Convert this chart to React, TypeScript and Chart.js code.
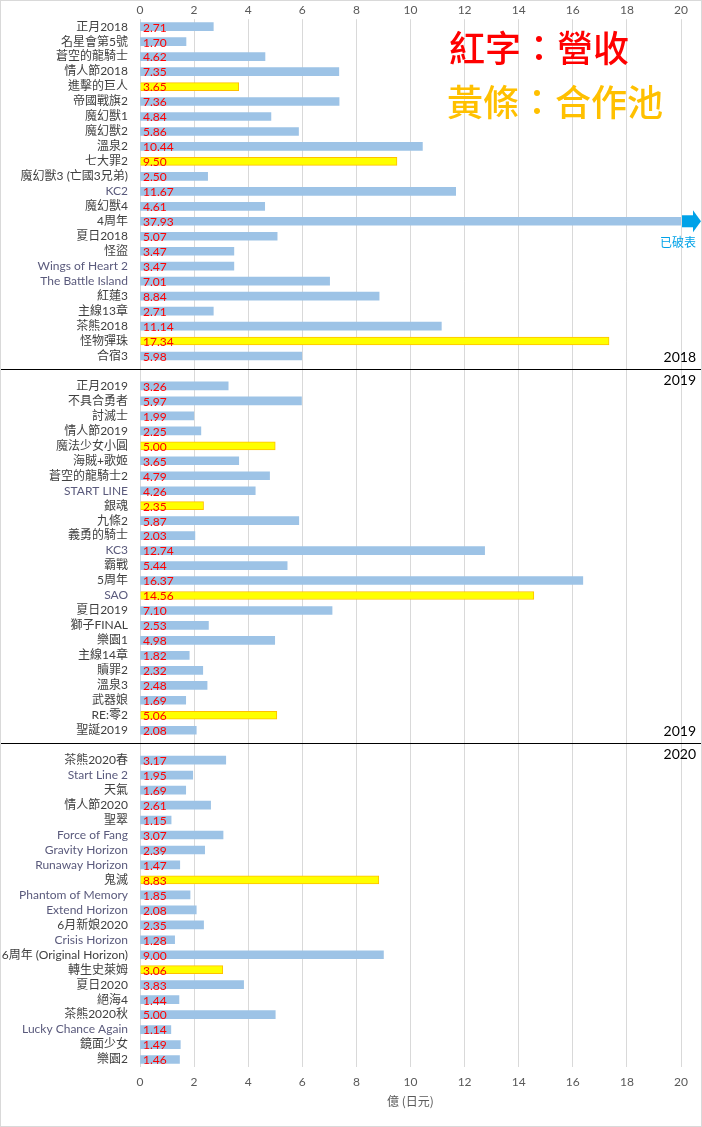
import React, { useEffect, useRef } from 'react';
import { Chart, registerables } from 'chart.js';

Chart.register(...registerables);

// ---------- data ----------
const years = ['2018', '2019', '2020'];

const cats2018 = [
  '正月2018', '名星會第5號', '蒼空的龍騎士', '情人節2018', '進擊的巨人', '帝國戰旗2', '魔幻獸1', '魔幻獸2',
  '溫泉2', '七大罪2', '魔幻獸3 (亡國3兄弟)', 'KC2', '魔幻獸4', '4周年', '夏日2018', '怪盜',
  'Wings of Heart 2', 'The Battle Island', '紅蓮3', '主線13章', '茶熊2018', '怪物彈珠', '合宿3',
];
const vals2018 = [
  2.71, 1.7, 4.62, 7.35, 3.65, 7.36, 4.84, 5.86, 10.44, 9.5, 2.5, 11.67, 4.61, 37.93, 5.07, 3.47,
  3.47, 7.01, 8.84, 2.71, 11.14, 17.34, 5.98,
];
const collab2018 = ['進擊的巨人', '七大罪2', '怪物彈珠'];

const cats2019 = [
  '正月2019', '不具合勇者', '討滅士', '情人節2019', '魔法少女小圓', '海賊+歌姬', '蒼空的龍騎士2', 'START LINE',
  '銀魂', '九條2', '義勇的騎士', 'KC3', '霸戰', '5周年', 'SAO', '夏日2019', '獅子FINAL', '樂園1',
  '主線14章', '贖罪2', '溫泉3', '武器娘', 'RE:零2', '聖誕2019',
];
const vals2019 = [
  3.26, 5.97, 1.99, 2.25, 5.0, 3.65, 4.79, 4.26, 2.35, 5.87, 2.03, 12.74, 5.44, 16.37, 14.56, 7.1,
  2.53, 4.98, 1.82, 2.32, 2.48, 1.69, 5.06, 2.08,
];
const collab2019 = ['魔法少女小圓', '銀魂', 'SAO', 'RE:零2'];

const cats2020 = [
  '茶熊2020春', 'Start Line 2', '天氣', '情人節2020', '聖翠', 'Force of Fang', 'Gravity Horizon',
  'Runaway Horizon', '鬼滅', 'Phantom of Memory', 'Extend Horizon', '6月新娘2020', 'Crisis Horizon',
  '6周年 (Original Horizon)', '轉生史萊姆', '夏日2020', '絕海4', '茶熊2020秋', 'Lucky Chance Again',
  '鏡面少女', '樂園2',
];
const vals2020 = [
  3.17, 1.95, 1.69, 2.61, 1.15, 3.07, 2.39, 1.47, 8.83, 1.85, 2.08, 2.35, 1.28, 9.0, 3.06, 3.83,
  1.44, 5.0, 1.14, 1.49, 1.46,
];
const collab2020 = ['鬼滅', '轉生史萊姆'];

const xMin = 0;
const xMax = 20;
const xStep = 2;

const legendRevenue = '紅字：營收';
const legendCollab = '黃條：合作池';
const overflowText = '已破表';
const axisTitle = '億 (日元)';

// ---------- build table ----------
const sections = [
  { cats: cats2018, vals: vals2018, collab: collab2018 },
  { cats: cats2019, vals: vals2019, collab: collab2019 },
  { cats: cats2020, vals: vals2020, collab: collab2020 },
];
const labels: string[] = [];
const values: (number | null)[] = [];
const isCollab: boolean[] = [];
const blankIdx: number[] = [];
sections.forEach((s, i) => {
  if (i > 0) {
    blankIdx.push(labels.length);
    labels.push('');
    values.push(null);
    isCollab.push(false);
  }
  s.cats.forEach((c, j) => {
    labels.push(c);
    values.push(s.vals[j]);
    isCollab.push(s.collab.includes(c));
  });
});

const BLUE = '#9dc3e6';
const YELLOW = '#ffff00';
const GOLD = '#ffc000';
const ARROW = '#00a2e8';

const overlay = {
  id: 'overlay',
  afterDatasetsDraw(chart: any) {
    const { ctx, chartArea } = chart;
    const xs = chart.scales.x;
    const ys = chart.scales.y;
    const W = chart.width;
    const H = chart.height;
    ctx.save();
    // value labels
    const valFont = '12px Lato, "Open Sans", sans-serif';
    ctx.font = valFont;
    ctx.fillStyle = '#ff0000';
    ctx.textAlign = 'left';
    ctx.textBaseline = 'middle';
    const x0 = xs.getPixelForValue(0);
    values.forEach((v, i) => {
      if (v == null) return;
      const y = ys.getPixelForValue(i);
      ctx.fillText(v.toFixed(2), x0 + 3, y + 1);
      if (v > xMax) {
        // overflow arrow
        const xr = chartArea.right;
        ctx.fillStyle = ARROW;
        ctx.fillRect(xr + 1, y - 6, 11, 12);
        ctx.beginPath();
        ctx.moveTo(xr + 12, y - 11);
        ctx.lineTo(xr + 20, y);
        ctx.lineTo(xr + 12, y + 11);
        ctx.closePath();
        ctx.fill();
        ctx.font = '12px "Noto Sans CJK TC", sans-serif';
        ctx.textAlign = 'center';
        ctx.fillText(overflowText, xr - 3, y + 21);
        ctx.font = valFont;
        ctx.textAlign = 'left';
        ctx.fillStyle = '#ff0000';
      }
    });
    // separators and year labels
    ctx.strokeStyle = '#000000';
    ctx.lineWidth = 1;
    ctx.font = '14px Lato, "Open Sans", sans-serif';
    ctx.fillStyle = '#000000';
    ctx.textAlign = 'right';
    blankIdx.forEach((bi, k) => {
      const y = Math.round(ys.getPixelForValue(bi)) - 1.5;
      ctx.beginPath();
      ctx.moveTo(0, y);
      ctx.lineTo(W, y);
      ctx.stroke();
      ctx.fillText(years[k], W - 6, y - 12);
      ctx.fillText(years[k + 1], W - 6, y + 11);
    });
    // legend-like titles
    ctx.textAlign = 'left';
    ctx.font = '500 36px "Noto Sans CJK TC", sans-serif';
    ctx.fillStyle = '#ff0000';
    ctx.fillText(legendRevenue, 449, 48);
    ctx.fillStyle = GOLD;
    ctx.fillText(legendCollab, 447, 102);
    // frame
    ctx.strokeStyle = '#d9d9d9';
    ctx.strokeRect(0.5, 0.5, W - 1, H - 1);
    ctx.restore();
  },
};

export default function App() {
  const ref = useRef<HTMLCanvasElement>(null);
  useEffect(() => {
    document.body.style.margin = '0';
    const chart = new Chart(ref.current!, {
      type: 'bar',
      data: {
        labels,
        datasets: [
          {
            data: values as any,
            backgroundColor: isCollab.map((c) => (c ? YELLOW : BLUE)),
            borderColor: isCollab.map((c) => (c ? GOLD : BLUE)),
            borderWidth: isCollab.map((c) => (c ? 1 : 0)),
            barThickness: 8,
          },
        ],
      },
      options: {
        indexAxis: 'y',
        responsive: false,
        animation: false,
        devicePixelRatio: 1,
        layout: { padding: { left: 0, right: 21, top: 0, bottom: 0 } },
        plugins: { legend: { display: false }, tooltip: { enabled: false } },
        scales: {
          x: {
            position: 'bottom',
            min: xMin,
            max: xMax,
            ticks: {
              stepSize: xStep,
              color: '#595959',
              font: { family: 'Lato, "Open Sans", sans-serif', size: 12 },
              padding: 8,
            },
            grid: { color: '#d9d9d9', drawTicks: false },
            border: { display: false },
            title: {
              display: true,
              text: axisTitle,
              color: '#595959',
              font: { family: '"Noto Sans CJK TC", sans-serif', size: 12 },
              padding: { top: 4, bottom: 18 },
            },
            afterFit: (s: any) => {
              s.height = 60;
            },
          },
          x2: {
            position: 'top',
            min: xMin,
            max: xMax,
            ticks: {
              stepSize: xStep,
              color: '#595959',
              font: { family: 'Lato, "Open Sans", sans-serif', size: 12 },
              padding: 2,
            },
            grid: { display: false, drawTicks: false },
            border: { display: false },
            afterFit: (s: any) => {
              s.height = 16.5;
            },
          },
          y: {
            ticks: {
              autoSkip: false,
              padding: 12,
              color: (c: any) => (/^[\x00-\x7F]+$/.test(labels[c.index] || '') ? '#5a5a7c' : '#404040'),
              font: { family: 'Lato, "Noto Sans CJK TC", sans-serif', size: 12 },
            },
            grid: { display: false, drawTicks: false },
            border: { display: false },
            afterFit: (s: any) => {
              s.width = 140;
            },
          },
        },
      } as any,
      plugins: [overlay],
    });
    return () => chart.destroy();
  }, []);
  return (
    <div style={{ width: 702, height: 1127 }}>
      <canvas ref={ref} width={702} height={1127} style={{ display: 'block' }} />
    </div>
  );
}
